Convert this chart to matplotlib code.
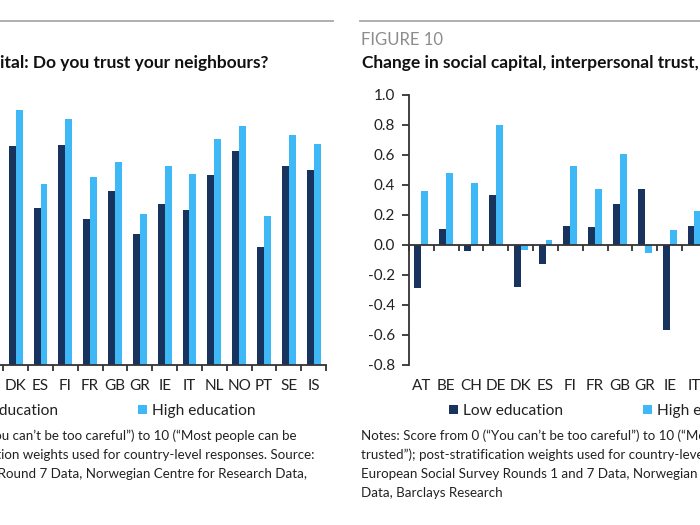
import numpy as np
import matplotlib
matplotlib.use("Agg")
import matplotlib.pyplot as plt
from matplotlib.lines import Line2D

plt.rcParams['font.family'] = ['Lato', 'DejaVu Sans']

low_col = '#17335e'
high_col = '#3fb8f7'
ax_col = '#333333'

# left chart: Do you trust your neighbours? (bars left of DK fall outside the crop)
left_cats = ['AT', 'BE', 'CH', 'DE', 'DK', 'ES', 'FI', 'FR', 'GB', 'GR', 'IE',
             'IT', 'NL', 'NO', 'PT', 'SE', 'IS']
left_low = [np.nan, np.nan, np.nan, np.nan, 6.50, 4.65, 6.52, 4.34, 5.17, 3.88,
            4.76, 4.59, 5.64, 6.34, 3.50, 5.89, 5.77]
left_high = [np.nan, np.nan, np.nan, np.nan, 7.56, 5.37, 7.28, 5.56, 6.01, 4.47,
             5.91, 5.67, 6.69, 7.07, 4.42, 6.81, 6.55]

# right chart: change in interpersonal trust (bars after IT fall outside the crop)
right_cats = ['AT', 'BE', 'CH', 'DE', 'DK', 'ES', 'FI', 'FR', 'GB', 'GR', 'IE',
              'IT', 'NL', 'NO', 'PT', 'SE', 'IS']
right_low = [-0.287, 0.104, -0.042, 0.333, -0.278, -0.129, 0.127, 0.120, 0.276,
             0.376, -0.567, 0.129, np.nan, np.nan, np.nan, np.nan, np.nan]
right_high = [0.358, 0.478, 0.413, 0.800, -0.031, 0.033, 0.527, 0.376, 0.604,
              -0.053, 0.098, 0.229, np.nan, np.nan, np.nan, np.nan, np.nan]
right_yticks = [-0.8, -0.6, -0.4, -0.2, 0.0, 0.2, 0.4, 0.6, 0.8, 1.0]

notes_left = ("Notes: Score from 0 (\u201cYou can\u2019t be too careful\u201d) to 10 (\u201cMost people can be\n"
              "trusted\u201d); post-stratification weights used for country-level responses. Source:\n"
              "European Social Survey Round 7 Data, Norwegian Centre for Research Data,\n"
              "Barclays Research")
notes_right = ("Notes: Score from 0 (\u201cYou can\u2019t be too careful\u201d) to 10 (\u201cMost people can be\n"
               "trusted\u201d); post-stratification weights used for country-level responses. Source:\n"
               "European Social Survey Rounds 1 and 7 Data, Norwegian Centre for Research\n"
               "Data, Barclays Research")

fig = plt.figure(figsize=(7, 5.25), dpi=100)
W, H = 700.0, 525.0
bw = 0.28
fs_tick = 11


def panel(left_px, cats, low, high, ylim, yticks):
    ax = fig.add_axes([left_px / W, 160 / H, 422 / W, 270 / H])
    x = np.arange(len(cats))
    b1 = ax.bar(x - bw / 2, low, bw, color=low_col, label='Low education')
    b2 = ax.bar(x + bw / 2, high, bw, color=high_col, label='High education')
    ax.set_xlim(-0.5, len(cats) - 0.5)
    ax.set_ylim(*ylim)
    for s in ['top', 'right']:
        ax.spines[s].set_visible(False)
    ax.spines['bottom'].set_position(('data', 0))
    for s in ['bottom', 'left']:
        ax.spines[s].set_color(ax_col)
        ax.spines[s].set_linewidth(1.3)
    ax.set_xticks(np.arange(len(cats) + 1) - 0.5)
    ax.set_xticklabels([])
    ax.tick_params(axis='x', direction='out', length=4.5, width=1.3, color=ax_col)
    ax.set_yticks(yticks)
    ax.set_yticklabels(['%.1f' % v for v in yticks])
    ax.tick_params(axis='y', direction='out', length=5, width=1.3, color=ax_col,
                   labelsize=fs_tick, labelcolor='#222222', pad=5)
    sec = ax.secondary_xaxis(0.0)
    sec.set_xticks(x)
    sec.set_xticklabels(cats)
    sec.tick_params(length=0, pad=10, labelsize=fs_tick, labelcolor='#222222')
    sec.spines['bottom'].set_visible(False)
    return ax, b1, b2


axL, l1, l2 = panel(-96, left_cats, left_low, left_high, (0, 8), [])
axR, r1, r2 = panel(409, right_cats, right_low, right_high, (-0.8, 1.0), right_yticks)

for ax, (h1, h2), x0 in [(axL, (l1, l2), -56), (axR, (r1, r2), 449)]:
    ax.legend([h1, h2], ['Low education', 'High education'], ncol=2,
              loc='center left', bbox_to_anchor=(x0 / W, 1 - 411 / H),
              bbox_transform=fig.transFigure, frameon=False, borderpad=0,
              borderaxespad=0, handlelength=0.6, handleheight=0.6,
              handletextpad=0.3, columnspacing=5.15, fontsize=11.2,
              labelcolor='#222222')

# header rules
fig.add_artist(Line2D([0, 333 / W], [1 - 20.5 / H] * 2, color='#a8a8a8', lw=1.3))
fig.add_artist(Line2D([360 / W, 1], [1 - 20.5 / H] * 2, color='#a8a8a8', lw=1.3))

fig.text(361 / W, 1 - 40 / H, 'FIGURE 10', color='#8c8c8c', fontsize=12, va='center')
fig.text(362 / W, 1 - 63 / H, 'Change in social capital, interpersonal trust, by education',
         fontsize=12.5, fontweight='bold', color='#111111', va='center')
fig.text(268 / W, 1 - 63 / H, 'Social capital: Do you trust your neighbours?',
         fontsize=12.5, fontweight='bold', color='#111111', va='center', ha='right')

fig.text(361 / W, 1 - 429 / H, notes_right, fontsize=9.6, color='#222222',
         va='top', linespacing=1.7)
fig.text(-144 / W, 1 - 429 / H, notes_left, fontsize=9.6, color='#222222',
         va='top', linespacing=1.7)

fig.savefig('out.png', dpi=100)
